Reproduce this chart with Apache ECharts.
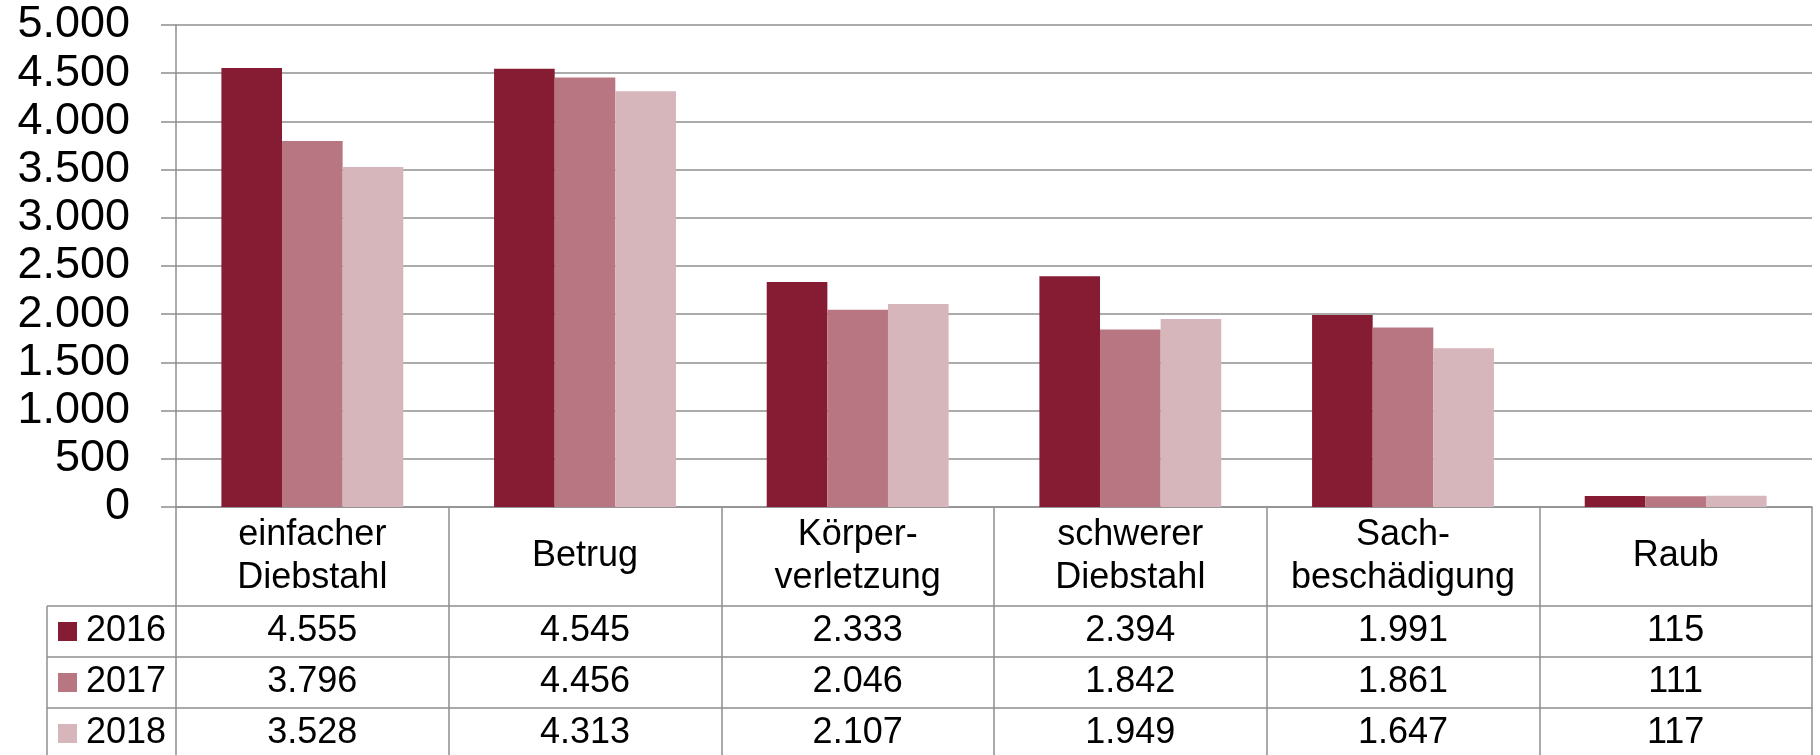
<!DOCTYPE html>
<html>
<head>
<meta charset="utf-8">
<script src="https://cdn.jsdelivr.net/npm/echarts@6/dist/echarts.min.js"></script>
<style>
  html, body { margin: 0; padding: 0; background: #fff; }
  #chart { width: 1820px; height: 755px; }
</style>
</head>
<body>
<div id="chart"></div>
<script>
const categories = ['einfacher\nDiebstahl', 'Betrug', 'Körper-\nverletzung', 'schwerer\nDiebstahl', 'Sach-\nbeschädigung', 'Raub']
const years = ['2016', '2017', '2018']
const values2016 = [4555, 4545, 2333, 2394, 1991, 115]
const values2017 = [3796, 4456, 2046, 1842, 1861, 111]
const values2018 = [3528, 4313, 2107, 1949, 1647, 117]
const colors = ['#861c33', '#b87682', '#d6b5bb']

const font = "'Liberation Sans', Arial, sans-serif"
const lineColor = '#8f8f8f'
const fmt = v => String(v).replace(/\B(?=(\d{3})+(?!\d))/g, '.')

// table geometry (grid bottom = top of table)
const gridLeft = 176
const gridRight = 8
const gridTop = 25
const gridBottom = 248
const headerH = 99
const rowH = 51

const allValues = [values2016, values2017, values2018]

const chart = echarts.init(document.getElementById('chart'))

const valueAxes = allValues.map((vals, i) => ({
  type: 'category',
  data: categories,
  position: 'bottom',
  offset: headerH + i * rowH,
  axisLine: { show: true, lineStyle: { color: lineColor, width: 1.5 } },
  axisTick: { show: false },
  axisLabel: {
    interval: 0,
    margin: rowH / 2,
    verticalAlign: 'middle',
    fontFamily: font,
    fontSize: 36,
    color: '#000',
    formatter: (v, idx) => fmt(vals[idx]),
  },
}))

const option = {
  animation: false,
  grid: { left: gridLeft, right: gridRight, top: gridTop, bottom: gridBottom },
  legend: {
    orient: 'vertical',
    left: 58,
    top: 606 + rowH / 2 - 18,
    padding: 0,
    icon: 'rect',
    itemWidth: 19,
    itemHeight: 19,
    itemGap: 15,
    textStyle: { fontFamily: font, fontSize: 36, lineHeight: 36, color: '#000', padding: [0, 0, 0, 4] },
    data: years,
  },
  xAxis: [
    {
      type: 'category',
      data: categories,
      axisLine: { show: true, lineStyle: { color: lineColor, width: 1.5 } },
      axisTick: { show: true, length: 248, lineStyle: { color: lineColor, width: 1.5 } },
      axisLabel: {
        interval: 0,
        margin: headerH / 2,
        verticalAlign: 'middle',
        fontFamily: font,
        fontSize: 36,
        lineHeight: 43,
        color: '#000',
      },
    },
    ...valueAxes,
  ],
  yAxis: {
    type: 'value',
    min: 0,
    max: 5000,
    interval: 500,
    axisLine: { show: true, lineStyle: { color: lineColor, width: 1.5 } },
    axisTick: { show: true, length: 15, lineStyle: { color: lineColor, width: 1.5 } },
    splitLine: { show: true, lineStyle: { color: lineColor, width: 1.5 } },
    axisLabel: {
      margin: 46,
      fontFamily: font,
      fontSize: 45,
      color: '#000',
      formatter: v => fmt(v),
    },
  },
  series: allValues.map((vals, i) => ({
    name: years[i],
    type: 'bar',
    data: vals,
    barGap: 0,
    barCategoryGap: '33.3%',
    itemStyle: { color: colors[i] },
  })),
  // legend column borders of the data table
  graphic: [
    { type: 'line', shape: { x1: 47, y1: 606, x2: gridLeft, y2: 606 }, style: { stroke: lineColor, lineWidth: 1.5 } },
    { type: 'line', shape: { x1: 47, y1: 657, x2: gridLeft, y2: 657 }, style: { stroke: lineColor, lineWidth: 1.5 } },
    { type: 'line', shape: { x1: 47, y1: 708, x2: gridLeft, y2: 708 }, style: { stroke: lineColor, lineWidth: 1.5 } },
    { type: 'line', shape: { x1: 47, y1: 606, x2: 47, y2: 755 }, style: { stroke: lineColor, lineWidth: 1.5 } },
  ],
}

chart.setOption(option)
</script>
</body>
</html>
